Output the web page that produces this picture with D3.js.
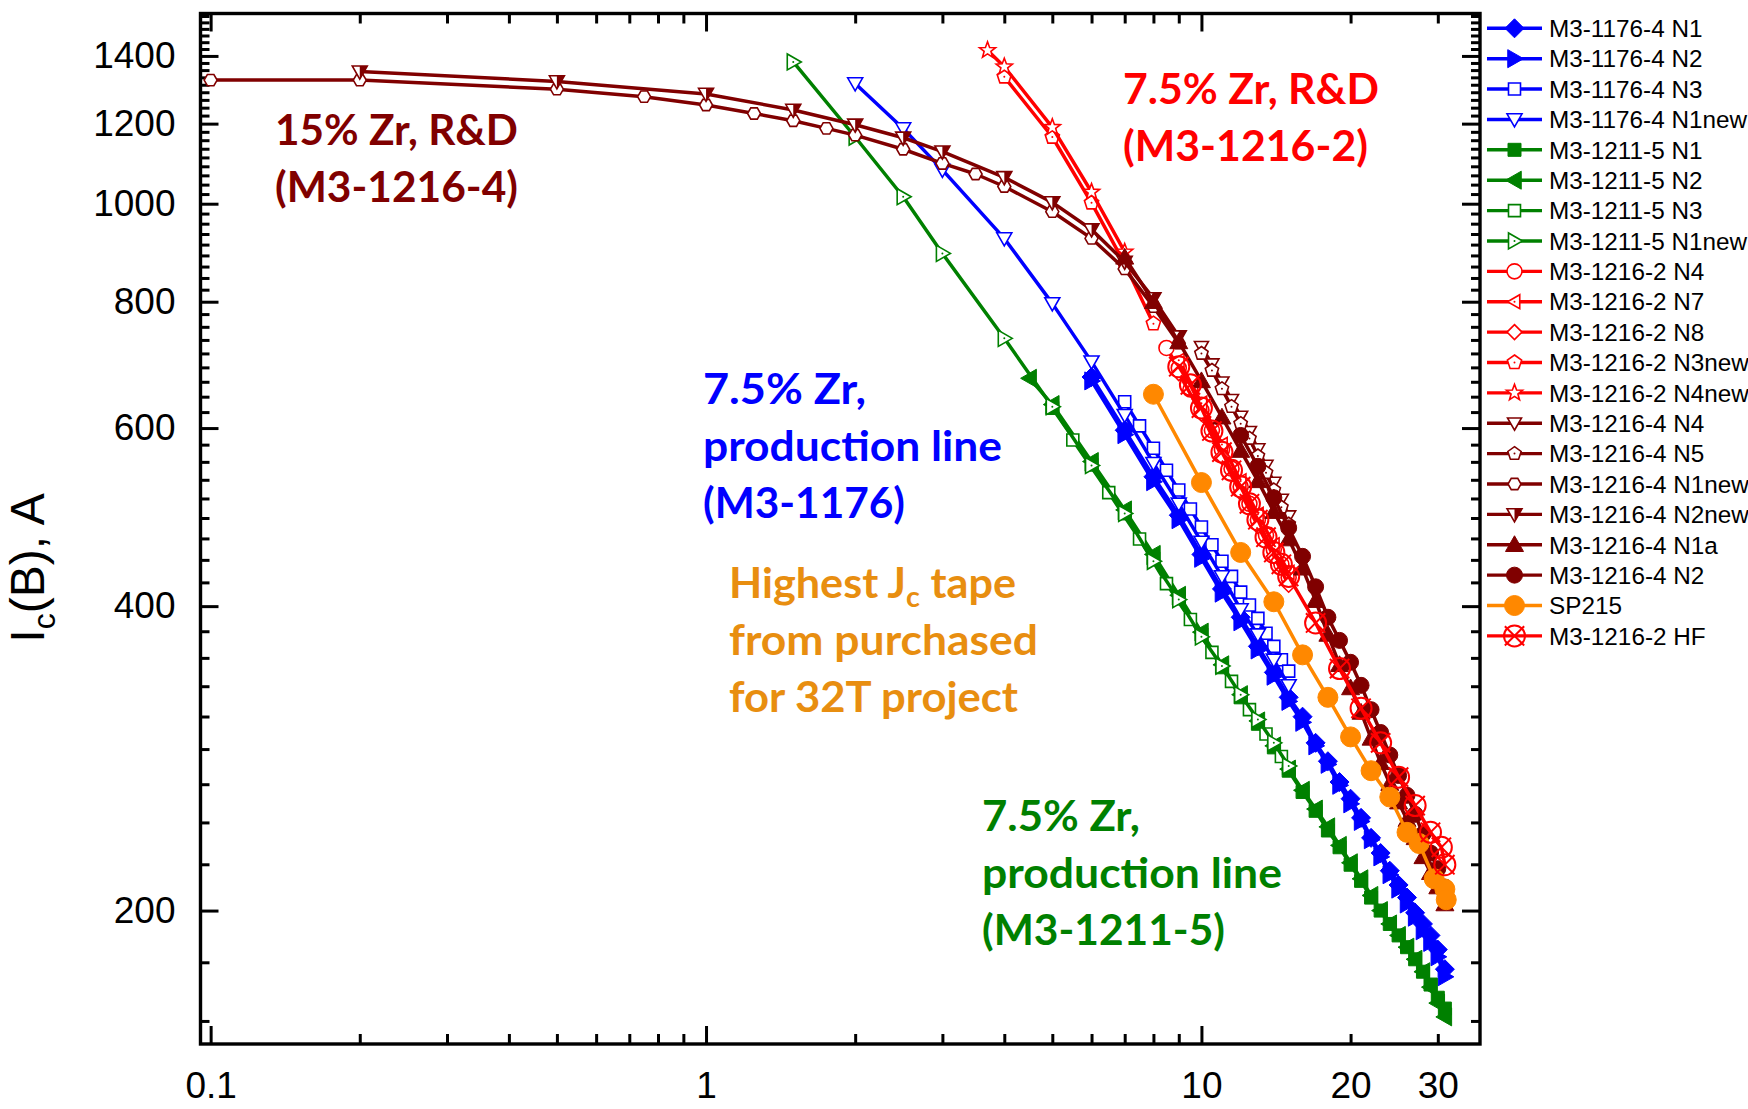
<!DOCTYPE html>
<html>
<head>
<meta charset="utf-8">
<script src="https://cdn.jsdelivr.net/npm/d3@7"></script>
<style>
  body { margin: 0; background: #fff; }
  svg { display: block; }
  text { font-family: "Liberation Sans", Arial, sans-serif; }
  .note { font-family: Lato, "Open Sans", sans-serif; font-weight: 700; }
</style>
</head>
<body>
<script>

// ---- data: field B (T) and Ic (A) per sample ----
var b1176N1 = [6,7,8,9,10,11,12,13,14,15,16,17,18,19,20,21,22,23,24,25,26,27,28,29,30,31];
var i1176N1 = [674,597,537,492,450,416,390,365,344,325,311,293,281,268,258,247,236,228,219,212,206,199,194,189,183,175];
var b1176N2 = [6,7,8,9,10,11,12,13,14,15,16,17,18,19,20,21,22,23,24,25,26,27,28,29,30,31];
var i1176N2 = [668,591,531,487,446,412,386,362,341,322,307,291,279,266,255,245,235,226,217,210,203,197,191,186,180,172];
var b1176N3 = [7,7.5,8,8.5,9,9.5,10,10.5,11,11.5,12,12.5,13,13.5,14,14.5,15];
var i1176N3 = [637,603,573,545,521,499,479,460,443,428,413,401,389,376,365,354,345];
var b1176N1new = [2,2.5,3,4,5,6,7,8,9,10,11,12,13,14,15];
var i1176N1new = [1315,1187,1080,924,797,698,618,554,505,463,428,397,375,354,334];

var b1211N1 = [5,6,7,8,9,10,11,12,13,14,15,16,17,18,19,20,21,22,23,24,25,26,27,28,29,30,31];
var i1211N1 = [628,552,494,446,407,375,348,325,306,290,275,262,251,240,231,222,214,206,200,194,189,184,179,174,169,164,160];
var b1211N2 = [4.5,5,6,7,8,9,10,11,12,13,14,15,16,17,18,19,20,21,22,23,24,25,26,27,28,29,30,31];
var i1211N2 = [672,633,556,498,450,410,377,350,327,308,291,276,263,252,242,232,223,215,207,200,194,189,184,179,174,168,162,157];
var b1211N3 = [5.5,6.5,7.5,8.5,9.5,10.5,11.5,12.5,13.5,14.5];
var i1211N3 = [584,518,466,421,388,360,337,316,299,284];
var b1211N1new = [1.5,2,2.5,3,4,5,6,7,8,9,10,11,12,13,14,15];
var i1211N1new = [1381,1164,1016,893,736,630,551,494,443,406,373,349,327,309,293,278];

var b12162N4 = [8.5,9,9.5,10,10.5,11,11.5,12,12.5,13,13.5,14,14.5,15];
var i12162N4 = [720,688,655,625,597,571,547,525,505,487,470,455,440,427];
var b12162N7 = [9,10,11,12,13,14,15];
var i12162N7 = [700,635,578,532,493,460,432];
var b12162N8 = [9,10,11,12,13,14,15];
var i12162N8 = [680,620,562,518,480,448,420];
var b12162N3new = [4,5,6,7,8];
var i12162N3new = [1335,1164,1002,872,761];
var b12162N4new = [3.7,4,5,6,7];
var i12162N4new = [1418,1366,1190,1027,896];

var b12164N4 = [10,10.5,11,11.5,12,12.5,13,13.5,14,14.5,15];
var i12164N4 = [722,694,666,640,616,595,572,551,530,510,491];
var b12164N5 = [10,10.5,11,11.5,12,12.5,13,13.5,14,14.5,15];
var i12164N5 = [711,684,656,630,606,586,563,542,521,501,482];
var b12164N1new = [0.1,0.2,0.5,0.75,1,1.25,1.5,1.75,2,2.5,3,3.5,4,5,6,7,8,9];
var i12164N1new = [1325,1325,1298,1276,1252,1228,1208,1187,1169,1132,1096,1070,1040,982,924,862,791,728];
var b12164N2new = [0.2,0.5,1,1.5,2,2.5,3,4,5,6,7,8,9];
var i12164N2new = [1351,1321,1284,1238,1197,1162,1126,1062,1003,943,876,806,739];
var b12164N1a = [7,8,9,10,11,12,13,14,15,16,17,18,19,20,21,22,23,24,25,26,27,28,29,30,31];
var i12164N1a = [885,800,730,668,615,570,532,496,466,436,405,375,350,332,314,296,280,267,256,246,236,226,218,211,203];
var b12164N2 = [12,13,14,15,16,17,18,19,20,21,22,23,24,25,26,27,28,29,30,31];
var i12164N2 = [590,550,512,478,448,418,390,370,352,334,316,300,285,272,260,249,238,228,220,211];

var bSP215 = [8,10,12,14,16,18,20,22,24,26,27.5,29.5,31,31.2];
var iSP215 = [648,530,452,404,358,325,297,275,259,239,233,215,210,205];
var bHF = [9,9.5,10,10.5,11,11.5,12,12.5,13,13.5,14,14.5,15,17,19,21,23,25,27,29,30.5,31];
var iHF = [690,662,628,596,568,545,525,505,487,468,452,440,428,385,347,317,293,271,254,239,231,222];

var xLabels = [0.1, 1, 10, 20, 30];
var yLabels = [200, 400, 600, 800, 1000, 1200, 1400];

// ---- colours ----
var BLUE = "#0000FF", GREEN = "#008000", RED = "#FF0000", DRED = "#800000", ORANGE = "#FF8800";

var series = [
  {name: "M3-1176-4 N1",     b: b1176N1,     ic: i1176N1,     color: BLUE,   mk: "diamond",  fill: true,  size: 19},
  {name: "M3-1176-4 N2",     b: b1176N2,     ic: i1176N2,     color: BLUE,   mk: "triRight", fill: true,  size: 18},
  {name: "M3-1176-4 N3",     b: b1176N3,     ic: i1176N3,     color: BLUE,   mk: "square",   fill: false, size: 12},
  {name: "M3-1176-4 N1new",  b: b1176N1new,  ic: i1176N1new,  color: BLUE,   mk: "triDown",  fill: false, size: 15},
  {name: "M3-1211-5 N1",     b: b1211N1,     ic: i1211N1,     color: GREEN,  mk: "square",   fill: true,  size: 13},
  {name: "M3-1211-5 N2",     b: b1211N2,     ic: i1211N2,     color: GREEN,  mk: "triLeft",  fill: true,  size: 18},
  {name: "M3-1211-5 N3",     b: b1211N3,     ic: i1211N3,     color: GREEN,  mk: "square",   fill: false, size: 12},
  {name: "M3-1211-5 N1new",  b: b1211N1new,  ic: i1211N1new,  color: GREEN,  mk: "triRight", fill: false, size: 16, dot: true},
  {name: "M3-1216-2 N4",     b: b12162N4,    ic: i12162N4,    color: RED,    mk: "circle",   fill: false, size: 15},
  {name: "M3-1216-2 N7",     b: b12162N7,    ic: i12162N7,    color: RED,    mk: "triLeft",  fill: false, size: 14, dot: true},
  {name: "M3-1216-2 N8",     b: b12162N8,    ic: i12162N8,    color: RED,    mk: "diamond",  fill: false, size: 15},
  {name: "M3-1216-2 N3new",  b: b12162N3new, ic: i12162N3new, color: RED,    mk: "pentagon", fill: false, size: 15, dot: true},
  {name: "M3-1216-2 N4new",  b: b12162N4new, ic: i12162N4new, color: RED,    mk: "star",     fill: false, size: 17},
  {name: "M3-1216-4 N4",     b: b12164N4,    ic: i12164N4,    color: DRED,   mk: "triDown",  fill: false, size: 14},
  {name: "M3-1216-4 N5",     b: b12164N5,    ic: i12164N5,    color: DRED,   mk: "pentagon", fill: false, size: 14, dot: true},
  {name: "M3-1216-4 N1new",  b: b12164N1new, ic: i12164N1new, color: DRED,   mk: "hexagon",  fill: false, size: 13},
  {name: "M3-1216-4 N2new",  b: b12164N2new, ic: i12164N2new, color: DRED,   mk: "triDown",  fill: "half", size: 15},
  {name: "M3-1216-4 N1a",    b: b12164N1a,   ic: i12164N1a,   color: DRED,   mk: "triUp",    fill: true,  size: 18},
  {name: "M3-1216-4 N2",     b: b12164N2,    ic: i12164N2,    color: DRED,   mk: "circle",   fill: true,  size: 16},
  {name: "SP215",            b: bSP215,      ic: iSP215,      color: ORANGE, mk: "circle",   fill: true,  size: 20},
  {name: "M3-1216-2 HF",     b: bHF,         ic: iHF,         color: RED,    mk: "circleX",  fill: false, size: 21}
];

var width = 1748, height = 1109;
var plot = {left: 200.5, right: 1480, top: 13.5, bottom: 1044};

var x = d3.scaleLog().domain([0.0954, 36.5]).range([plot.left, plot.right]);
var y = d3.scaleLog().domain([147.6, 1542]).range([plot.bottom, plot.top]);

var svg = d3.select("body").append("svg")
  .attr("width", width)
  .attr("height", height);

// marker outline paths, centred on 0,0
function poly(pts) {
  return "M" + pts.map(function(p) { return p[0].toFixed(2) + "," + p[1].toFixed(2); }).join("L") + "Z";
}
function ngon(n, r, a0) {
  var pts = [];
  for (var k = 0; k < n; k++) {
    var a = a0 + k * 2 * Math.PI / n;
    pts.push([r * Math.cos(a), r * Math.sin(a)]);
  }
  return pts;
}
function markerPath(mk, s) {
  var r = s / 2;
  switch (mk) {
    case "diamond":  return poly([[0, -r], [r, 0], [0, r], [-r, 0]]);
    case "square":   return poly([[-r, -r], [r, -r], [r, r], [-r, r]]);
    case "triUp":    return poly([[0, -r], [r, 0.75 * r], [-r, 0.75 * r]]);
    case "triDown":  return poly([[0, r], [r, -0.75 * r], [-r, -0.75 * r]]);
    case "triRight": return poly([[r, 0], [-0.75 * r, -r], [-0.75 * r, r]]);
    case "triLeft":  return poly([[-r, 0], [0.75 * r, -r], [0.75 * r, r]]);
    case "pentagon": return poly(ngon(5, r, -Math.PI / 2));
    case "hexagon":  return poly(ngon(6, r, 0));
    case "star":
      var pts = [];
      for (var k = 0; k < 10; k++) {
        var a = -Math.PI / 2 + k * Math.PI / 5;
        var rr = k % 2 ? r * 0.42 : r;
        pts.push([rr * Math.cos(a), rr * Math.sin(a)]);
      }
      return poly(pts);
    default: // circle
      return "M" + r + ",0A" + r + "," + r + " 0 1 1 " + (-r) + ",0A" + r + "," + r + " 0 1 1 " + r + ",0Z";
  }
}

function drawMarker(g, s) {
  if (s.mk === "circleX") {
    var r = s.size / 2, a = r * 0.92;
    g.append("path").attr("d", markerPath("circle", s.size))
      .attr("fill", "none").attr("stroke", s.color).attr("stroke-width", 2);
    g.append("path").attr("d", "M" + (-a) + "," + (-a) + "L" + a + "," + a + "M" + a + "," + (-a) + "L" + (-a) + "," + a)
      .attr("stroke", s.color).attr("stroke-width", 2);
    return;
  }
  g.append("path")
    .attr("d", markerPath(s.mk, s.size))
    .attr("fill", s.fill === true ? s.color : "#fff")
    .attr("stroke", s.color)
    .attr("stroke-width", s.fill === true ? 1 : 1.6)
    .attr("stroke-linejoin", "miter");
  if (s.fill === "half") {
    var r2 = s.size / 2;
    g.append("path")
      .attr("d", poly([[0, r2], [r2, -0.75 * r2], [0, -0.75 * r2]]))
      .attr("fill", s.color);
  }
  if (s.dot) {
    g.append("circle").attr("r", 1).attr("fill", s.color);
  }
}

// ---- axes ----
var xMinor = [0.2,0.3,0.4,0.5,0.6,0.7,0.8,0.9,2,3,4,5,6,7,8,9,20,30];
var yMinor = d3.range(-2, 63).filter(function(k) { return k % 9 !== 0; })
  .map(function(k) { return 200 + k * 200 / 9; })
  .filter(function(v) { return v > 147.6 && v < 1542; });
var fmt = function(d) { return xLabels.indexOf(d) >= 0 ? String(d) : ""; };

var axes = svg.append("g").attr("class", "axes");

axes.append("g").attr("transform", "translate(0," + plot.bottom + ")")
  .call(d3.axisBottom(x).tickValues([0.1, 1, 10]).tickSize(-18).tickPadding(28).tickFormat(fmt));
axes.append("g").attr("transform", "translate(0," + plot.bottom + ")")
  .call(d3.axisBottom(x).tickValues(xMinor).tickSize(-10).tickPadding(28).tickFormat(fmt));
axes.append("g").attr("transform", "translate(0," + plot.top + ")")
  .call(d3.axisTop(x).tickValues([0.1, 1, 10]).tickSize(-18).tickFormat(""));
axes.append("g").attr("transform", "translate(0," + plot.top + ")")
  .call(d3.axisTop(x).tickValues(xMinor).tickSize(-10).tickFormat(""));

axes.append("g").attr("transform", "translate(" + plot.left + ",0)")
  .call(d3.axisLeft(y).tickValues(yLabels).tickSize(-18).tickPadding(25).tickFormat(d3.format("d")));
axes.append("g").attr("transform", "translate(" + plot.left + ",0)")
  .call(d3.axisLeft(y).tickValues(yMinor).tickSize(-9).tickFormat(""));
axes.append("g").attr("transform", "translate(" + plot.right + ",0)")
  .call(d3.axisRight(y).tickValues(yLabels).tickSize(-18).tickFormat(""));
axes.append("g").attr("transform", "translate(" + plot.right + ",0)")
  .call(d3.axisRight(y).tickValues(yMinor).tickSize(-9).tickFormat(""));

axes.selectAll(".domain").remove();
axes.selectAll(".tick line").attr("stroke", "#000").attr("stroke-width", 3);
axes.selectAll(".tick text")
  .style("font-family", "'Liberation Sans', Arial, sans-serif")
  .style("font-size", "37px")
  .attr("fill", "#000");

svg.append("rect")
  .attr("x", plot.left).attr("y", plot.top)
  .attr("width", plot.right - plot.left).attr("height", plot.bottom - plot.top)
  .attr("fill", "none").attr("stroke", "#000").attr("stroke-width", 3.4);

// y title
var yt = svg.append("text")
  .attr("transform", "translate(44,568) rotate(-90)")
  .attr("text-anchor", "middle")
  .style("font-size", "48px");
yt.append("tspan").text("I");
yt.append("tspan").text("c").attr("dy", 11).style("font-size", "32px");
yt.append("tspan").text("(B), A").attr("dy", -11);

// ---- series ----
var line = d3.line()
  .x(function(d) { return x(d[0]); })
  .y(function(d) { return y(d[1]); });

var plotG = svg.append("g");
series.forEach(function(s) {
  var pts = s.b.map(function(b, i) { return [b, s.ic[i]]; });
  var g = plotG.append("g");
  g.append("path").datum(pts)
    .attr("d", line)
    .attr("fill", "none")
    .attr("stroke", s.color)
    .attr("stroke-width", 3.5)
    .attr("stroke-linejoin", "round");
  g.selectAll(".pt")
    .data(pts)
    .enter()
    .append("g")
    .attr("class", "pt")
    .attr("transform", function(d) { return "translate(" + x(d[0]) + "," + y(d[1]) + ")"; })
    .each(function() { drawMarker(d3.select(this), s); });
});

// ---- annotations ----
function note(lines, color, x0, y0, widths) {
  lines.forEach(function(t, i) {
    var tx = svg.append("text")
      .attr("class", "note")
      .attr("x", x0)
      .attr("y", y0 + i * 57)
      .attr("fill", color)
      .style("font-size", "42px")
      .attr("textLength", widths[i])
      .attr("lengthAdjust", "spacingAndGlyphs");
    if (Array.isArray(t)) {
      tx.append("tspan").text(t[0]);
      tx.append("tspan").text(t[1]).attr("dy", 9).style("font-size", "28px");
      tx.append("tspan").text(t[2]).attr("dy", -9);
    } else {
      tx.text(t);
    }
  });
}
note(["15% Zr, R&D", "(M3-1216-4)"], DRED, 275, 145, [243, 243]);
note(["7.5% Zr, R&D", "(M3-1216-2)"], RED, 1123, 104, [256, 245]);
note(["7.5% Zr,", "production line", "(M3-1176)"], BLUE, 703, 404, [163, 299, 202]);
note([["Highest J", "c", " tape"], "from purchased", "for 32T project"], "#E88E10", 729, 598, [287, 309, 289]);
note(["7.5% Zr,", "production line", "(M3-1211-5)"], GREEN, 982, 831, [158, 300, 243]);

// ---- legend ----
var legend = svg.append("g")
  .selectAll("g")
  .data(series)
  .enter()
  .append("g")
  .attr("transform", function(d, i) { return "translate(0," + (28.3 + i * 30.38) + ")"; });

legend.append("line")
  .attr("x1", 1487).attr("x2", 1542)
  .attr("stroke", function(d) { return d.color; })
  .attr("stroke-width", 3.4);
legend.append("g")
  .attr("transform", "translate(1514.5,0)")
  .each(function(d) { drawMarker(d3.select(this), d); });
legend.append("text")
  .attr("x", 1549)
  .attr("dy", "0.36em")
  .style("font-size", "24.3px")
  .text(function(d) { return d.name; });

</script>
</body>
</html>
